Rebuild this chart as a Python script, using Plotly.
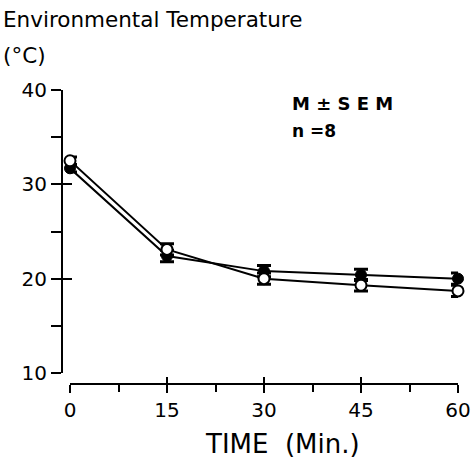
import plotly.graph_objects as go

time_min = [0, 15, 30, 45, 60]
filled_vals = [31.7, 22.4, 20.8, 20.4, 20.0]
filled_sem = [0.4, 0.6, 0.6, 0.6, 0.6]
open_vals = [32.5, 23.1, 20.0, 19.3, 18.7]
open_sem = [0.4, 0.6, 0.6, 0.6, 0.6]
y_major = [10, 20, 30, 40]
y_minor = [15, 25, 35]
x_major = [0, 15, 30, 45, 60]
x_minor = [7.5, 22.5, 37.5, 52.5]

FONT = "DejaVu Sans"
W, H = 474, 459
ML, MR, MT, MB = 62, 16, 90, 75
PW = W - ML - MR
PH = H - MT - MB

fig = go.Figure()
fig.add_trace(go.Scatter(
    x=time_min, y=filled_vals, mode="lines+markers", cliponaxis=False,
    line=dict(color="black", width=2),
    marker=dict(symbol="circle", size=11, color="black", line=dict(color="black", width=1)),
    error_y=dict(type="data", array=filled_sem, color="black", thickness=3, width=7),
    showlegend=False))
fig.add_trace(go.Scatter(
    x=time_min, y=open_vals, mode="lines+markers", cliponaxis=False,
    line=dict(color="black", width=2),
    marker=dict(symbol="circle", size=11, color="white", line=dict(color="black", width=2)),
    error_y=dict(type="data", array=open_sem, color="black", thickness=3, width=7),
    showlegend=False))

xd0 = (70 - ML) / PW
yd0 = (H - MB - 373) / PH
fig.add_trace(go.Scatter(x=[None], y=[None], xaxis="x2", yaxis="y2", showlegend=False))

fig.update_layout(
    width=W, height=H, margin=dict(l=ML, r=MR, t=MT, b=MB, autoexpand=False),
    plot_bgcolor="white", paper_bgcolor="white",
    font=dict(family=FONT, color="black"),
    xaxis=dict(range=[0, 60], domain=[xd0, 1], anchor="free", position=0, automargin=False,
               showline=True, linecolor="black", linewidth=2, showgrid=False, zeroline=False,
               tickmode="array", tickvals=x_major, ticktext=[str(v) for v in x_major],
               ticks="outside", ticklen=8, tickwidth=2, tickcolor="black",
               tickfont=dict(size=20, family=FONT),
               minor=dict(tickmode="array", tickvals=x_minor, ticks="outside", ticklen=7,
                          tickwidth=2, tickcolor="black", showgrid=False)),
    yaxis=dict(range=[10, 40], domain=[yd0, 1], anchor="free", position=0, automargin=False,
               showline=True, linecolor="black", linewidth=2, showgrid=False, zeroline=False,
               tickmode="array", tickvals=y_major, ticktext=[str(v) for v in y_major],
               ticks="outside", ticklen=10, tickwidth=2, tickcolor="black",
               tickfont=dict(size=20, family=FONT),
               minor=dict(tickmode="array", tickvals=y_minor, ticks="outside", ticklen=10,
                          tickwidth=2, tickcolor="black", showgrid=False)),
    xaxis2=dict(range=[0, 60], domain=[xd0, 1], anchor="free", position=0, overlaying="x",
                automargin=False,
                showline=False, showgrid=False, zeroline=False, showticklabels=False,
                tickmode="array", tickvals=x_major, ticks="inside", ticklen=7,
                tickwidth=2, tickcolor="black"),
    yaxis2=dict(range=[10, 40], domain=[yd0, 1], anchor="free", position=0, overlaying="y",
                automargin=False,
                showline=False, showgrid=False, zeroline=False, showticklabels=False,
                tickmode="array", tickvals=y_major, ticks="inside", ticklen=9,
                tickwidth=2, tickcolor="black"),
)

def px_x(p):
    return (p - ML) / PW

def px_y(p):
    return (H - MB - p) / PH

annots = [
    dict(text="Environmental Temperature", x=px_x(1), y=px_y(5), size=21.5, xanchor="left"),
    dict(text="(°C)", x=px_x(1), y=px_y(41), size=21.5, xanchor="left"),
    dict(text="<b>M ± S E M</b>", x=px_x(290), y=px_y(91), size=18, xanchor="left"),
    dict(text="<b>n =8</b>", x=px_x(290), y=px_y(119), size=17, xanchor="left"),
    dict(text="TIME  (Min.)", x=px_x(282), y=px_y(427), size=26, xanchor="center"),
]
for a in annots:
    fig.add_annotation(text=a["text"], x=a["x"], y=a["y"], xref="paper", yref="paper",
                       xanchor=a["xanchor"], yanchor="top", showarrow=False,
                       font=dict(size=a["size"], family=FONT, color="black"))

fig.write_html("out.html",
               config={"responsive": False, "displayModeBar": False},
               post_script="document.body.style.margin='0';document.body.style.overflow='hidden';")
